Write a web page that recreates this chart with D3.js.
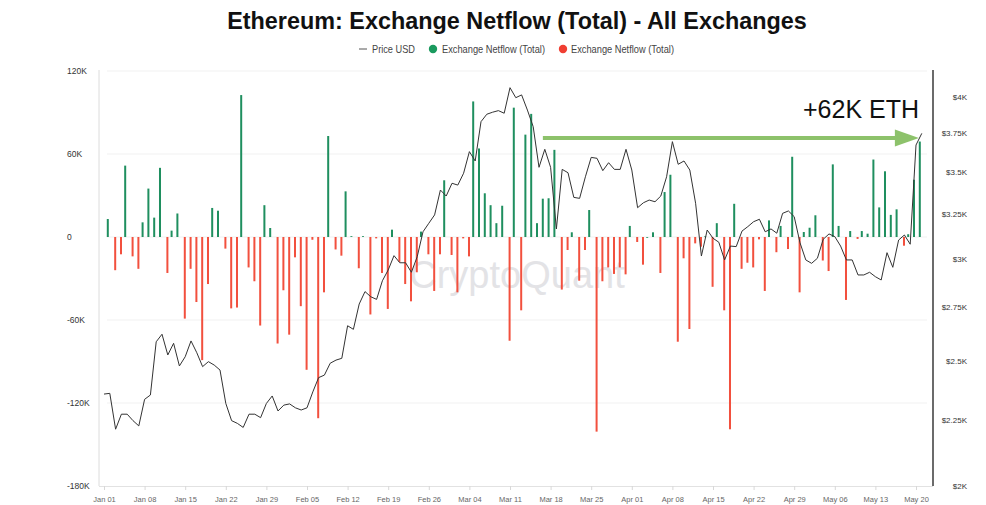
<!DOCTYPE html>
<html>
<head>
<meta charset="utf-8">
<script src="https://cdn.jsdelivr.net/npm/d3@7"></script>
<style>
  html, body { margin: 0; padding: 0; background: #fff; }
  svg { display: block; font-family: "Liberation Sans", Arial, Helvetica, sans-serif; }
</style>
</head>
<body>
<svg id="chart" width="986" height="505"></svg>
<script>
// ---------------- DATA ----------------
const titleText = "Ethereum: Exchange Netflow (Total) - All Exchanges";
const legendLabels = ["Price USD", "Exchange Netflow (Total)", "Exchange Netflow (Total)"];
const startDate = new Date(2024, 0, 1);

// Daily exchange netflow (thousand ETH), Jan 01 .. May 20 2024
const netflowK = [
  13, -24, -12.5, 51.6, -14, -23, 10.6, 35, 14, 50,
  -26, 4.6, 17, -59, -23, -47, -89, -34, 21, 19,
  -8.4, -51.6, -51, 102.6, -22, -32, -64, 23, 6.5, -77,
  -38.5, -70.6, -14.7, -50, -96, -2, -131, -40, 73, -9,
  -13.5, 33, 0.6, -22.6, 0.6, -56, -1, -26, -52, 5.3,
  -18, -34, -46.5, -25.5, 3.9, -12.5, -39, -12.5, 41, -13,
  -40, -1, -14, 98, 64, 31.6, 23, 10, 22.6, -75,
  93.5, -53, 74, 89, 10, 27.7, 28, 63, -38, -9.4,
  3.4, -31.6, -9.4, 19.5, -140.7, -32, -22, -26.7, -22, -27,
  8, -3.6, -20, 0, 3.4, -26, 32.5, 45, -75.7, -15.4,
  -66.5, -4.6, -7, 0.5, -36, 10, -53, -139, 24, -23,
  -18.6, -22, -1.7, -39, 12, -11, 8, -8.7, 58, -40,
  3.6, 6.7, 15.7, -17, -24.6, 52.5, 8, -45.5, 4.3, -1.4,
  4.3, 2.4, 56, 21.4, 47.5, 16, 20, -6.3, 2, 41.4,
  69
];

// Daily ETH price (USD), Jan 01 .. May 21 2024
const priceUSD = [
  2356, 2359, 2213, 2273, 2273, 2247, 2226, 2334, 2352, 2586,
  2621, 2526, 2579, 2477, 2518, 2590, 2536, 2474, 2496, 2481,
  2459, 2317, 2247, 2236, 2220, 2273, 2273, 2259, 2317, 2348,
  2286, 2310, 2315, 2299, 2290, 2299, 2365, 2426, 2437, 2489,
  2503, 2511, 2661, 2644, 2766, 2828, 2802, 2789, 2883, 2939,
  3015, 2977, 2977, 2927, 3009, 3146, 3194, 3242, 3389, 3353,
  3430, 3419, 3492, 3629, 3569, 3828, 3879, 3893, 3904, 3886,
  4067, 3995, 4015, 3908, 3794, 3529, 3644, 3529, 3162, 3516,
  3495, 3345, 3339, 3470, 3592, 3586, 3508, 3558, 3516, 3516,
  3644, 3512, 3284, 3313, 3329, 3319, 3353, 3470, 3694, 3548,
  3569, 3512, 3310, 3013, 3156, 3110, 3088, 2992, 3067, 3064,
  3150, 3175, 3203, 3217, 3146, 3162, 3138, 3251, 3265, 3232,
  3085, 2992, 2974, 3001, 3104, 3134, 3119, 3067, 2992, 2992,
  2913, 2913, 2927, 2904, 2887, 3031, 2953, 3100, 3128, 3077,
  3672, 3749
];

const leftTicks = [-180, -120, -60, 0, 60, 120];
const rightTicks = [2000, 2250, 2500, 2750, 3000, 3250, 3500, 3750, 4000];
const annotationText = "+62K ETH";
const annotationLevelK = 71.5;
const annotationStart = new Date(2024, 2, 16, 16);
const annotationEnd = new Date(2024, 4, 20, 12);
const watermark = "CryptoQuant";

// ---------------- COLORS ----------------
const GREEN = "#1f8f5f";
const RED = "#f2503e";
const LINE = "#333333";
const ARROW = "#8dc26b";

// ---------------- SCALES ----------------
const svg = d3.select("#chart");
const plotL = 99, plotR = 933, plotT = 70, plotB = 486;

const x = d3.scaleTime()
  .domain([startDate, new Date(2024, 4, 20)])
  .range([104, 916]);
const yL = d3.scaleLinear().domain([-180, 120]).range([486, 71]);
const yR = d3.scaleLog().domain([2000, 4000]).range([486, 97]);

const barDates = netflowK.map((_, i) => d3.timeDay.offset(startDate, i));
const lineDates = priceUSD.map((_, i) => d3.timeDay.offset(startDate, i));
const barCenter = d => x(d3.timeHour.offset(d, 19));

// ---------------- GRID ----------------
svg.append("g").selectAll("line")
  .data(leftTicks.filter(t => t !== -180))
  .join("line")
  .attr("x1", plotL + 8).attr("x2", plotR - 6)
  .attr("y1", d => yL(d)).attr("y2", d => yL(d))
  .attr("stroke", "#f1f1f1").attr("stroke-width", 1);

// ---------------- WATERMARK ----------------
svg.append("text")
  .attr("x", 517).attr("y", 288)
  .attr("text-anchor", "middle")
  .attr("font-size", 38)
  .attr("fill", "#e3e3e6")
  .text(watermark);

// ---------------- AXES LINES ----------------
svg.append("line").attr("x1", plotL).attr("x2", plotL).attr("y1", plotT).attr("y2", plotB)
  .attr("stroke", "#dcdcdc").attr("stroke-width", 1);
svg.append("line").attr("x1", plotL).attr("x2", plotR).attr("y1", plotB + 0.5).attr("y2", plotB + 0.5)
  .attr("stroke", "#e2e2e2").attr("stroke-width", 1);
svg.append("line").attr("x1", plotR).attr("x2", plotR).attr("y1", plotT).attr("y2", plotB)
  .attr("stroke", "#3a3a3a").attr("stroke-width", 1.5);

// ---------------- BARS ----------------
const bw = 2;
svg.append("g").selectAll("rect")
  .data(netflowK.map((v, i) => ({ v, d: barDates[i] })))
  .join("rect")
  .attr("x", p => barCenter(p.d) + (p.v >= 0 ? -0.8 : 0.8) - bw / 2)
  .attr("width", bw)
  .attr("y", p => Math.min(yL(p.v), yL(0)))
  .attr("height", p => Math.max(0.8, Math.abs(yL(p.v) - yL(0))))
  .attr("fill", p => p.v >= 0 ? GREEN : RED);

// ---------------- PRICE LINE ----------------
svg.append("path")
  .datum(priceUSD.map((p, i) => ({ p, d: lineDates[i] })))
  .attr("fill", "none")
  .attr("stroke", LINE)
  .attr("stroke-width", 1)
  .attr("stroke-linejoin", "round")
  .attr("d", d3.line().x(q => x(q.d)).y(q => yR(q.p)));

// ---------------- AXIS LABELS ----------------
const gl = svg.append("g").attr("transform", "translate(67,0)")
  .call(d3.axisLeft(yL).tickValues(leftTicks).tickSize(0)
    .tickFormat(d => d === 0 ? "0" : d + "K"));
gl.select(".domain").remove();
gl.selectAll("text").attr("x", 0).attr("text-anchor", "start")
  .attr("font-size", 8.5).attr("fill", "#333").attr("font-family", null);

const gr = svg.append("g").attr("transform", "translate(967,0)")
  .call(d3.axisRight(yR).tickValues(rightTicks).tickSize(0)
    .tickFormat(d => "$" + (d / 1000) + "K"));
gr.select(".domain").remove();
gr.selectAll("text").attr("x", 0).attr("text-anchor", "end")
  .attr("font-size", 8).attr("fill", "#333").attr("font-family", null);

const xTicks = d3.timeDay.range(startDate, new Date(2024, 4, 21), 7);
const gx = svg.append("g").attr("transform", `translate(0,${plotB})`)
  .call(d3.axisBottom(x).tickValues(xTicks).tickSize(4).tickPadding(7)
    .tickFormat(d3.timeFormat("%b %d")));
gx.select(".domain").remove();
gx.selectAll("line").attr("stroke", "#d8d8d8");
gx.selectAll("text").attr("font-size", 7.5).attr("fill", "#666").attr("font-family", null);

// ---------------- ANNOTATION ----------------
const ay = yL(annotationLevelK);
const ax0 = x(annotationStart), ax1 = x(annotationEnd);
svg.append("line")
  .attr("x1", ax0).attr("x2", ax1 - 20)
  .attr("y1", ay).attr("y2", ay)
  .attr("stroke", ARROW).attr("stroke-width", 4);
svg.append("path")
  .attr("d", `M${ax1 - 24},${ay - 8.5} L${ax1},${ay} L${ax1 - 24},${ay + 8.5} Z`)
  .attr("fill", ARROW);
svg.append("text")
  .attr("x", 919).attr("y", 118)
  .attr("text-anchor", "end")
  .attr("font-size", 25)
  .attr("fill", "#111")
  .text(annotationText);

// ---------------- TITLE ----------------
svg.append("text")
  .attr("x", 517).attr("y", 29)
  .attr("text-anchor", "middle")
  .attr("font-size", 23.4).attr("font-weight", "bold")
  .attr("fill", "#111")
  .text(titleText);

// ---------------- LEGEND ----------------
const lg = svg.append("g");
lg.append("line").attr("x1", 359).attr("x2", 367).attr("y1", 49).attr("y2", 49)
  .attr("stroke", "#555").attr("stroke-width", 1);
const legendText = (xPos, label, len) => lg.append("text")
  .attr("x", xPos).attr("y", 52.5).attr("font-size", 10.5).attr("fill", "#444")
  .attr("textLength", len).attr("lengthAdjust", "spacingAndGlyphs").text(label);
legendText(372, legendLabels[0], 43);
lg.append("circle").attr("cx", 433).attr("cy", 49).attr("r", 4.2).attr("fill", "#1a9a5e");
legendText(442, legendLabels[1], 103);
lg.append("circle").attr("cx", 563).attr("cy", 49).attr("r", 4.2).attr("fill", "#f03e32");
legendText(571, legendLabels[2], 103);
</script>
</body>
</html>
